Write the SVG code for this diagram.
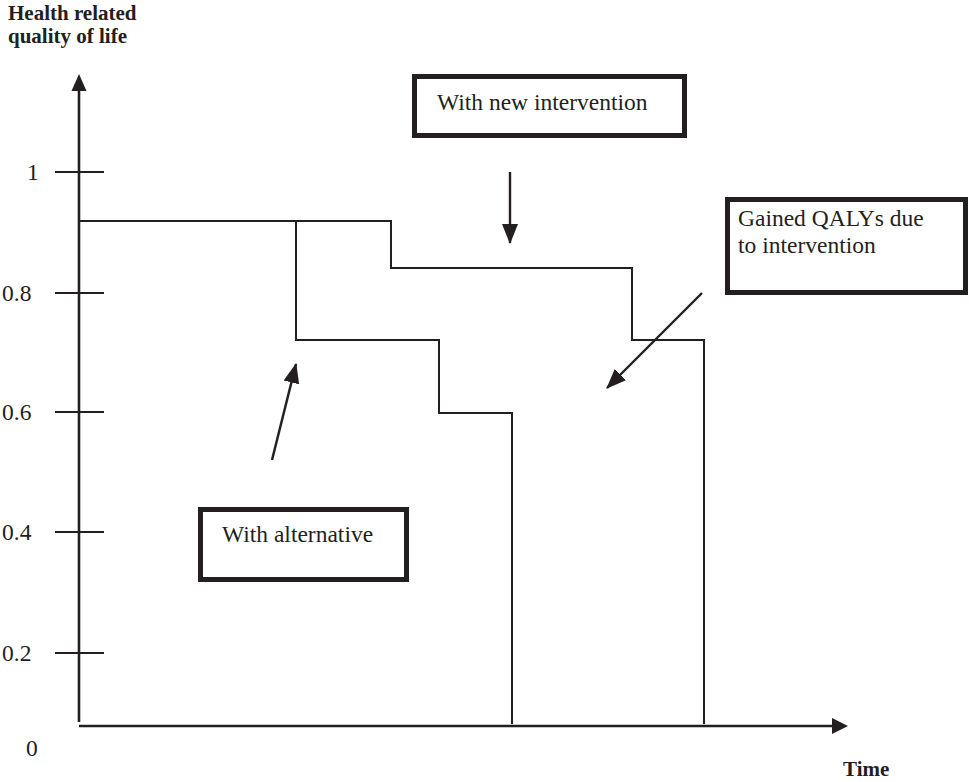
<svg xmlns="http://www.w3.org/2000/svg" width="969" height="782" viewBox="0 0 969 782">
<style>
.t{font-family:"Liberation Serif","Times New Roman",serif;font-size:23.5px;fill:#231f20}
.b{font-family:"Liberation Serif","Times New Roman",serif;font-size:21px;font-weight:bold;fill:#231f20}
.ax{stroke:#231f20;stroke-width:2.6;fill:none}
.tk{stroke:#231f20;stroke-width:2.2;fill:none}
.st{stroke:#231f20;stroke-width:2;fill:none}
.box{stroke:#231f20;stroke-width:5;fill:#fff}
.ar{stroke:#231f20;stroke-width:2.4;fill:none;marker-end:url(#h)}
</style>
<defs>
<marker id="h" markerUnits="userSpaceOnUse" markerWidth="20" markerHeight="18" refX="19" refY="8" orient="auto" viewBox="0 0 20 16">
<path d="M0,0 L20,8 L0,16 z" fill="#231f20"/>
</marker>
</defs>
<g id="axes">
<path class="ax" d="M79,722 V88"/>
<path d="M79,74 L71.5,91 L86.5,91 z" fill="#231f20"/>
<path class="ax" d="M79,726 H834"/>
<path d="M848,726 L832,718 L832,734 z" fill="#231f20"/>
<path class="tk" d="M55,172 H104 M55,293 H104 M55,412 H104 M55,532 H104 M55,653 H104"/>
<text class="t" x="27" y="180">1</text>
<text class="t" x="2" y="301">0.8</text>
<text class="t" x="2" y="420">0.6</text>
<text class="t" x="2" y="540">0.4</text>
<text class="t" x="2" y="661">0.2</text>
<text class="t" x="26" y="756">0</text>
<text class="b" x="8" y="20">Health related</text>
<text class="b" x="8" y="43">quality of life</text>
<text class="b" x="843" y="776">Time</text>
</g>
<g id="curves">
<path class="st" d="M79,221 H391 V268 H632 V340 H704 V724"/>
<path class="st" d="M296,221 V340 H439 V413 H512 V724"/>
</g>
<g id="node-new">
<rect class="box" x="414.5" y="76.5" width="270" height="59"/>
<text class="t" x="437" y="110">With new intervention</text>
</g>
<g id="node-gained">
<rect class="box" x="727.5" y="199.5" width="238" height="93"/>
<text class="t" x="738" y="226">Gained QALYs due</text>
<text class="t" x="738" y="253">to intervention</text>
</g>
<g id="node-alt">
<rect class="box" x="200.5" y="509.5" width="206" height="70"/>
<text class="t" x="222" y="542">With alternative</text>
</g>
<g id="connectors">
<path class="ar" d="M510,172 V243"/>
<path class="ar" d="M702,293 L607,388"/>
<path class="ar" d="M272,460 L296,364"/>
</g>
</svg>
